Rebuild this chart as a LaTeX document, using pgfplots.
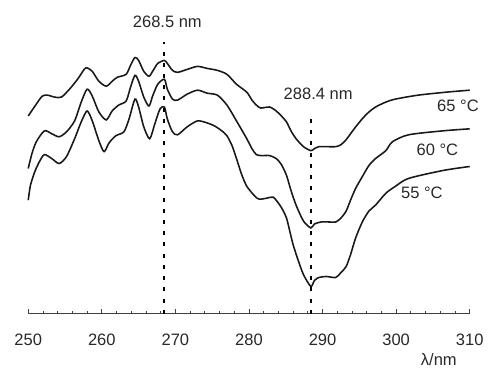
\documentclass[border=0pt]{standalone}
\usepackage{pgfplots}
\pgfplotsset{compat=1.18}
\usepackage{fontspec}
\setmainfont{Liberation Sans}
\definecolor{txt}{RGB}{40,40,40}
\begin{document}
\begin{tikzpicture}
\begin{axis}[
  x=4.455pt, y=0.6pt,
  xmin=250, xmax=310, ymin=55.3, ymax=372,
  axis x line*=bottom, axis y line=none,
  clip=false,
  xtick={250,260,...,310},
  minor x tick num=4,
  tick align=inside,
  major tick length=3pt, minor tick length=1.8pt,
  every tick/.style={black!75, line width=0.5pt},
  x axis line style={black!75, line width=0.6pt},
  /pgf/number format/assume math mode=true,
  xticklabel style={anchor=center, yshift=-15.6pt, font=\fontsize{10}{12}\selectfont, text=txt},
  spec/.style={black!90, line width=0.95pt, mark=none, smooth, tension=0.45},
  vdot/.style={black, line width=1.2pt, mark=none, dash pattern=on 2.4pt off 4.4pt, sharp plot},
]
% 65 C
\addplot[spec] coordinates {(250.0,255) (251.1,267) (251.9,275) (252.6,276) (253.6,274) (254.5,274) (255.6,282) (256.7,292) (257.6,302) (258.0,303.5) (258.7,300) (259.6,290) (260.6,285) (261.4,290) (262.1,294) (263.3,297) (263.9,306) (264.5,314) (265.0,311) (265.7,300) (266.4,295) (266.9,300) (267.6,308) (268.5,311) (268.9,308) (269.6,301) (270.3,299) (271.6,302) (273.0,305) (274.3,303) (275.7,301) (277.0,297) (278.3,287) (279.7,279) (280.4,271) (281.0,266) (281.6,263) (282.8,264) (283.7,260) (284.4,255) (285.1,249) (285.7,240) (286.4,232) (287.4,224) (288.4,220) (288.9,222) (289.5,224) (290.5,224) (291.8,224) (292.5,226) (293.2,231) (293.8,237) (294.5,244) (295.5,253) (296.3,259) (297.2,264) (298.6,269) (299.9,272) (303.0,276) (306.8,279) (310.0,281)};
% 60 C
\addplot[spec] coordinates {(250.0,202) (250.5,217) (251.1,229) (252.2,240) (253.2,237) (254.2,234) (255.2,239) (256.3,250) (257.2,269) (258.0,282) (258.7,275) (259.6,259) (260.6,251) (261.4,260) (262.3,266) (263.3,270) (263.9,284) (264.5,296) (265.0,290) (265.7,274) (266.4,265) (266.9,275) (267.6,287) (268.5,292) (268.9,282) (269.6,272) (270.3,271) (271.6,277) (273.0,281) (274.3,278) (275.7,276) (277.0,266) (278.3,250) (279.7,232) (280.4,222) (281.0,216) (281.7,215) (282.8,215) (283.7,212) (284.4,206) (285.1,195) (285.7,180) (286.4,165) (287.4,149) (288.4,142) (288.9,146) (289.8,148) (290.9,148) (291.8,148) (292.5,152) (293.2,159) (293.8,170) (294.5,182) (295.5,195) (296.3,205) (297.2,212) (298.6,220) (299.5,229) (301.7,236) (306.4,240) (310.0,242)};
% 55 C
\addplot[spec] coordinates {(250.0,170) (250.3,185) (250.9,199) (251.6,210) (252.2,216) (253.2,212) (254.2,207) (255.2,214) (256.3,232) (257.2,249) (258.0,260) (258.7,250) (259.6,230) (260.3,219) (261.0,228) (261.9,235) (263.0,239) (263.7,252) (264.5,272) (265.0,264) (265.7,244) (266.5,232) (267.2,247) (267.9,262) (268.5,264) (268.9,252) (269.6,239) (270.3,236) (271.6,244) (273.0,250) (274.3,248) (275.3,245) (276.3,240) (277.0,235) (277.7,225) (278.3,212) (279.0,196) (279.7,184) (280.8,174) (281.4,171) (282.4,172) (283.3,173) (284.1,166) (284.6,160) (285.1,152) (285.6,137) (286.0,125) (286.7,109) (287.4,95) (288.4,83) (288.9,89) (289.5,92) (290.5,93) (291.8,92) (292.5,97) (293.2,103) (293.8,115) (294.5,132) (295.4,148) (296.3,159) (297.2,165) (298.6,177) (299.9,184) (301.7,192) (306.4,200) (310.0,204)};
% dotted markers
\addplot[vdot] coordinates {(268.5,55.3) (268.5,330)};
\addplot[vdot] coordinates {(288.4,55.3) (288.4,254)};
\begin{scope}[every node/.style={font=\fontsize{10}{12}\selectfont, text=txt, inner sep=0pt}]
\node at (axis cs:268.9,350) {268.5 nm};
\node at (axis cs:289.4,277) {288.4 nm};
\node at (axis cs:308.4,265) {65 °C};
\node at (axis cs:305.6,221) {60 °C};
\node at (axis cs:303.5,177) {55 °C};
\node at (axis cs:305.8,9) {λ/nm};
\end{scope}
\path (axis cs:246.16,0) rectangle (axis cs:312.06,372);
\end{axis}
\end{tikzpicture}
\end{document}
